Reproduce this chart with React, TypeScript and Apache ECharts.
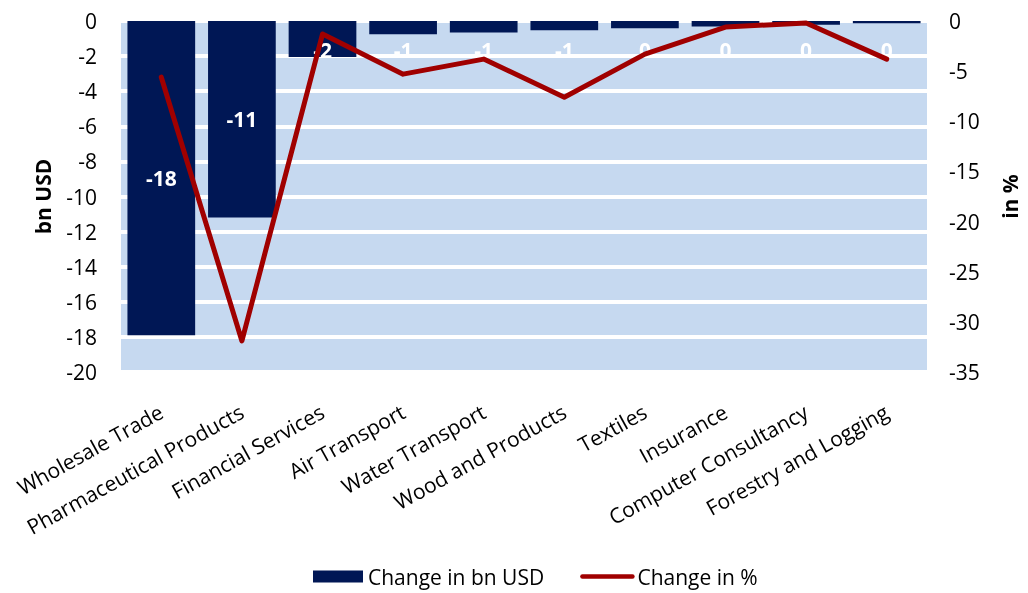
import React, { useEffect, useRef } from "react";
import * as echarts from "echarts";

const categories = [
  "Wholesale Trade",
  "Pharmaceutical Products",
  "Financial Services",
  "Air Transport",
  "Water Transport",
  "Wood and Products",
  "Textiles",
  "Insurance",
  "Computer Consultancy",
  "Forestry and Logging",
];
const changeBnUsd = [-17.9, -11.2, -2.05, -0.76, -0.65, -0.52, -0.42, -0.32, -0.22, -0.13];
const changePct = [-5.6, -31.9, -1.3, -5.3, -3.8, -7.6, -3.3, -0.6, -0.2, -3.8];
const leftTicks = { min: -20, max: 0, interval: 2 };
const rightTicks = { min: -35, max: 0, interval: 5 };

const FONT = "'Open Sans', 'Noto Sans', sans-serif";
const NAVY = "#001755";
const RED = "#a00000";
const FS = 21;

export default function App() {
  const ref = useRef<HTMLDivElement>(null);
  useEffect(() => {
    if (!ref.current) return;
    const chart = echarts.init(ref.current, null, { renderer: "svg" });
    const barData = changeBnUsd.map((v) => ({
      value: v,
      label:
        Math.abs(v) >= 5
          ? { position: "inside" }
          : { position: "insideTop", distance: 18 },
    }));
    chart.setOption({
      animation: false,
      textStyle: { fontFamily: FONT },
      grid: {
        left: 121,
        right: 93,
        top: 21,
        bottom: 221,
        show: true,
        backgroundColor: "#c6d9f0",
        borderWidth: 0,
      },
      legend: {
        bottom: 1,
        left: 308,
        itemWidth: 50,
        itemHeight: 12,
        itemGap: 36,
        textStyle: { fontSize: FS, color: "#000", fontFamily: FONT },
        data: [
          { name: "Change in bn USD", icon: "rect" },
          {
            name: "Change in %",
            itemStyle: { opacity: 0 },
            lineStyle: { width: 4.5, color: RED },
          },
        ],
      },
      xAxis: {
        type: "category",
        data: categories,
        axisLine: { show: false },
        axisTick: { show: false },
        axisLabel: {
          rotate: 29,
          margin: 38,
          fontSize: FS,
          color: "#000",
          fontFamily: FONT,
          interval: 0,
        },
      },
      yAxis: [
        {
          type: "value",
          ...leftTicks,
          position: "left",
          name: "bn USD",
          nameLocation: "middle",
          nameGap: 68,
          nameTextStyle: { fontSize: FS, fontWeight: "bold", color: "#000", fontFamily: FONT },
          axisLine: { show: false },
          axisTick: { show: false },
          axisLabel: { fontSize: FS, color: "#000", margin: 24, fontFamily: FONT },
          splitLine: { show: true, lineStyle: { color: "#ffffff", width: 4 } },
        },
        {
          type: "value",
          ...rightTicks,
          position: "right",
          name: "in %",
          nameLocation: "middle",
          nameRotate: 90,
          nameGap: 72,
          nameTextStyle: { fontSize: FS, fontWeight: "bold", color: "#000", fontFamily: FONT },
          axisLine: { show: false },
          axisTick: { show: false },
          axisLabel: { fontSize: FS, color: "#000", margin: 22, fontFamily: FONT },
          splitLine: { show: false },
        },
      ],
      series: [
        {
          name: "Change in bn USD",
          type: "bar",
          data: barData,
          barCategoryGap: "16%",
          itemStyle: { color: NAVY },
          label: {
            show: true,
            color: "#fff",
            fontSize: FS,
            fontWeight: "bold",
            fontFamily: FONT,
            formatter: (p: any) => String(Math.round(p.value) === 0 ? 0 : Math.round(p.value)),
          },
        },
        {
          name: "Change in %",
          type: "line",
          yAxisIndex: 1,
          data: changePct,
          symbol: "none",
          lineStyle: { color: RED, width: 5, cap: "round", join: "round" },
          itemStyle: { color: RED },
          z: 3,
        },
      ],
    });
    return () => chart.dispose();
  }, []);
  return (
    <div
      ref={ref}
      style={{ position: "fixed", left: 0, top: 0, width: 1028, height: 593 }}
    />
  );
}
